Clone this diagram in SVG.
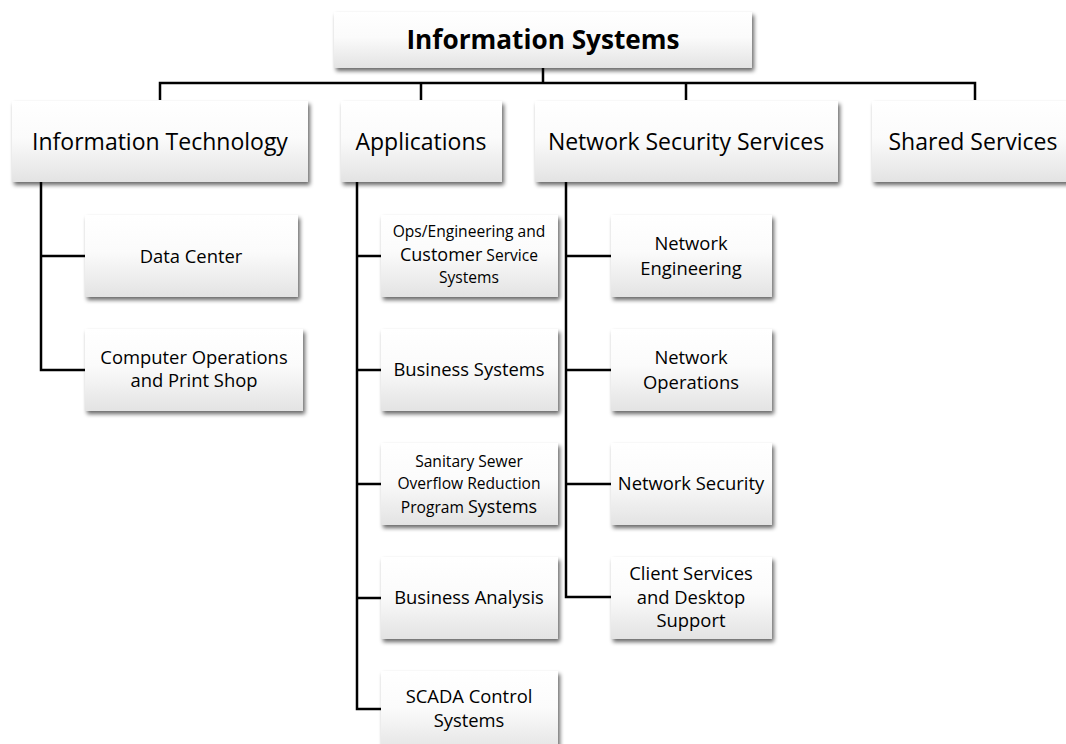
<svg xmlns="http://www.w3.org/2000/svg" width="1066" height="744" viewBox="0 0 1066 744">
<defs>
<linearGradient id="g" x1="0" y1="0" x2="0" y2="1">
<stop offset="0" stop-color="#ffffff"/>
<stop offset="0.45" stop-color="#fbfbfb"/>
<stop offset="1" stop-color="#e3e3e3"/>
</linearGradient>
<filter id="sh" x="-10%" y="-10%" width="125%" height="135%">
<feGaussianBlur in="SourceAlpha" stdDeviation="2.2"/>
<feOffset dx="2" dy="3" result="b"/>
<feComponentTransfer><feFuncA type="linear" slope="0.6"/></feComponentTransfer>
<feMerge><feMergeNode/><feMergeNode in="SourceGraphic"/></feMerge>
</filter>
</defs>
<style>
.box{fill:url(#g);filter:url(#sh);}
text{font-family:"Open Sans","Liberation Sans",sans-serif;fill:#000;text-anchor:middle;}
.t0{font-size:26.2px;font-weight:bold;}
.t1{font-size:23px;}
.t2{font-size:18.4px;}
.t3{font-size:15.6px;}
.c{fill:none;stroke:#000;stroke-width:2.5;}
</style>
<rect width="1066" height="744" fill="#fff"/>
<g id="connectors">
<path class="c" d="M543 68V83M160 100V83H975V100M421 83V100M686 83V100"/>
<path class="c" d="M41 182V370H85M41 256H85"/>
<path class="c" d="M357 182V709H381M357 256H381M357 370H381M357 484H381M357 598H381"/>
<path class="c" d="M566 182V597H611M566 256H611M566 370H611M566 484H611"/>
</g>
<g id="n-is"><rect class="box" x="334" y="12" width="418" height="56"/><text class="t0" x="543" y="49">Information Systems</text></g>
<g id="n-it"><rect class="box" x="12" y="101" width="296" height="81"/><text class="t1" x="160" y="150">Information Technology</text></g>
<g id="n-app"><rect class="box" x="341" y="101" width="161" height="81"/><text class="t1" x="421" y="150">Applications</text></g>
<g id="n-nss"><rect class="box" x="535" y="101" width="303" height="81"/><text class="t1" x="686" y="150">Network Security Services</text></g>
<g id="n-ss"><rect class="box" x="872" y="101" width="200" height="81"/><text class="t1" x="973" y="150">Shared Services</text></g>
<g id="n-dc"><rect class="box" x="85" y="215" width="213" height="82"/><text class="t2" x="191" y="263">Data Center</text></g>
<g id="n-cops"><rect class="box" x="85" y="329" width="218" height="82"/><text class="t2" x="194" y="364">Computer Operations</text><text class="t2" x="194" y="387">and Print Shop</text></g>
<g id="n-ops"><rect class="box" x="381" y="215" width="177" height="82"/><text class="t3" x="469" y="237">Ops/Engineering and</text><text class="t3" x="469" y="261"><tspan style="font-size:18px">Customer</tspan> Service</text><text class="t3" x="469" y="283">Systems</text></g>
<g id="n-bs"><rect class="box" x="381" y="329" width="177" height="82"/><text class="t2" x="469" y="376">Business Systems</text></g>
<g id="n-sso"><rect class="box" x="381" y="443" width="177" height="82"/><text class="t3" x="469" y="467">Sanitary Sewer</text><text class="t3" x="469" y="489">Overflow Reduction</text><text class="t3" x="469" y="513">Program <tspan style="font-size:18px">Systems</tspan></text></g>
<g id="n-ba"><rect class="box" x="381" y="557" width="177" height="82"/><text class="t2" x="469" y="604">Business Analysis</text></g>
<g id="n-scada"><rect class="box" x="381" y="671" width="177" height="82"/><text class="t2" x="469" y="703">SCADA Control</text><text class="t2" x="469" y="727">Systems</text></g>
<g id="n-ne"><rect class="box" x="611" y="215" width="161" height="82"/><text class="t2" x="691" y="250">Network</text><text class="t2" x="691" y="275">Engineering</text></g>
<g id="n-no"><rect class="box" x="611" y="329" width="161" height="82"/><text class="t2" x="691" y="364">Network</text><text class="t2" x="691" y="389">Operations</text></g>
<g id="n-ns"><rect class="box" x="611" y="443" width="161" height="82"/><text class="t2" x="691" y="490">Network Security</text></g>
<g id="n-cs"><rect class="box" x="611" y="557" width="161" height="82"/><text class="t2" x="691" y="580">Client Services</text><text class="t2" x="691" y="604">and Desktop</text><text class="t2" x="691" y="627">Support</text></g>
</svg>
